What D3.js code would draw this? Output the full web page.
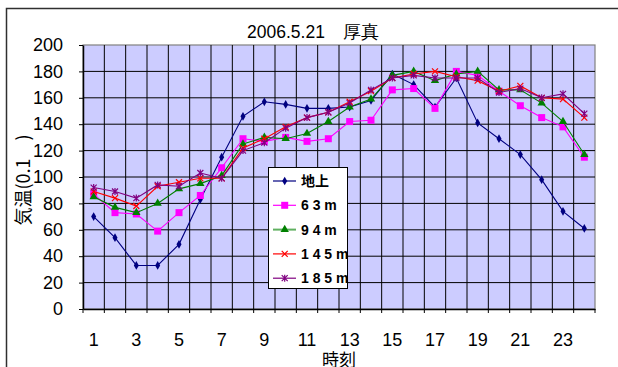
<!DOCTYPE html>
<html>
<head>
<meta charset="utf-8">
<script src="https://cdn.jsdelivr.net/npm/d3@7"></script>
<style>
  html, body { margin: 0; padding: 0; background: #fff; }
  svg { display: block; font-family: "Liberation Sans", Arial, sans-serif; }
</style>
</head>
<body>
<div id="chart"></div>
<script>
// --- DATA ---
const hours = d3.range(1, 25);
const xTickLabels = [1, 3, 5, 7, 9, 11, 13, 15, 17, 19, 21, 23];
const yTicks = d3.range(0, 201, 20);

const ground = [70, 54, 33, 33, 49, 83, 115, 146, 157, 155, 152, 152, 153, 158, 178, 170, 153, 175, 141, 129, 117, 98, 74, 61];
const m63 = [87, 73, 72, 59, 73, 86, 107, 129, 127, 130, 127, 129, 142, 143, 166, 167, 152, 180, 177, 165, 154, 145, 138, 115];
const m94 = [85, 77, 73, 80, 91, 95, 101, 125, 130, 129, 133, 142, 153, 159, 177, 180, 173, 178, 180, 166, 166, 156, 142, 117];
const m145 = [89, 84, 78, 93, 96, 99, 99, 122, 129, 138, 145, 149, 157, 165, 175, 178, 180, 176, 173, 165, 169, 160, 159, 145];
const m185 = [92, 89, 84, 94, 93, 103, 99, 120, 126, 137, 145, 149, 156, 166, 175, 177, 175, 175, 175, 164, 167, 160, 163, 148];

const series = [
  { name: "地上", values: ground, color: "#000080", legendColor: "#000080", marker: "diamond" },
  { name: "6 3 m", values: m63, color: "#ff00ff", legendColor: "#ff00ff", marker: "square" },
  { name: "9 4 m", values: m94, color: "#008000", legendColor: "#60b060", marker: "triangle" },
  { name: "1 4 5 m", values: m145, color: "#ff0000", legendColor: "#ff0000", marker: "x" },
  { name: "1 8 5 m", values: m185, color: "#800080", legendColor: "#800080", marker: "asterisk" }
];

// --- LAYOUT ---
const W = 618, H = 367;
const plot = { left: 83, right: 595, top: 45, bottom: 309 };

const svg = d3.select("#chart").append("svg")
  .attr("width", W).attr("height", H);

// outer chart frame
svg.append("rect")
  .attr("x", 6.5).attr("y", 8.5)
  .attr("width", 640).attr("height", 400)
  .attr("fill", "#fff").attr("stroke", "#303030").attr("stroke-width", 1.5);

const x = d3.scaleBand().domain(hours).range([plot.left, plot.right]);
const y = d3.scaleLinear().domain([0, 200]).range([plot.bottom, plot.top]);
const cx = h => x(h) + x.bandwidth() / 2;

// plot area
svg.append("rect")
  .attr("x", plot.left).attr("y", plot.top)
  .attr("width", plot.right - plot.left).attr("height", plot.bottom - plot.top)
  .attr("fill", "#ccccff").attr("stroke", "#808080").attr("stroke-width", 1.2);

// grid
const grid = svg.append("g");
grid.selectAll("line.h").data(yTicks.slice(1, -1)).join("line")
  .attr("x1", plot.left).attr("x2", plot.right)
  .attr("y1", d => y(d)).attr("y2", d => y(d))
  .attr("stroke", "#000").attr("stroke-width", 1);
grid.selectAll("line.v").data(hours.slice(1)).join("line")
  .attr("x1", d => x(d)).attr("x2", d => x(d))
  .attr("y1", plot.top).attr("y2", plot.bottom)
  .attr("stroke", "#000").attr("stroke-width", 1);

// axes
const xAxis = svg.append("g").attr("transform", `translate(0,${plot.bottom})`)
  .call(d3.axisBottom(x).tickValues([]).tickSizeOuter(0));
xAxis.selectAll(".tick").remove();
xAxis.select(".domain").attr("stroke", "#000").attr("stroke-width", 1.5);
xAxis.selectAll("line.tk").data(hours.concat([25])).join("line")
  .attr("class", "tk")
  .attr("x1", d => d === 25 ? plot.right : x(d)).attr("x2", d => d === 25 ? plot.right : x(d))
  .attr("y1", 0).attr("y2", 4).attr("stroke", "#000");

const yAxis = svg.append("g").attr("transform", `translate(${plot.left},0)`)
  .call(d3.axisLeft(y).tickValues(yTicks).tickSize(4).tickPadding(16).tickSizeOuter(0));
yAxis.select(".domain").attr("stroke", "#000").attr("stroke-width", 1.5);
yAxis.selectAll(".tick text")
  .attr("font-size", 18).attr("fill", "#000")
  .attr("font-family", "'Liberation Sans', Arial, sans-serif");

// x labels (odd hours only)
svg.append("g").selectAll("text").data(xTickLabels).join("text")
  .attr("x", d => cx(d)).attr("y", 346)
  .attr("text-anchor", "middle").attr("font-size", 18).attr("fill", "#000")
  .text(d => d);

// titles
svg.append("text")
  .attr("x", 313).attr("y", 38).attr("text-anchor", "middle")
  .attr("font-size", 17.5).attr("fill", "#000")
  .text("2006.5.21　厚真");

svg.append("text")
  .attr("x", (plot.left + plot.right) / 2).attr("y", 366).attr("text-anchor", "middle")
  .attr("font-size", 17).attr("fill", "#000")
  .attr("font-family", "'Noto Sans CJK JP', sans-serif")
  .text("時刻");

svg.append("text")
  .attr("transform", "translate(30,180) rotate(-90)")
  .attr("text-anchor", "middle")
  .attr("font-size", 18).attr("fill", "#000")
  .attr("font-family", "'Noto Sans CJK JP', sans-serif")
  .text("気温(0.1　)");

// markers
function marker(g, type, color, px, py) {
  if (type === "diamond") {
    g.append("path").attr("d", d3.symbol(d3.symbolDiamond, 22)())
      .attr("transform", `translate(${px},${py})`).attr("fill", color);
  } else if (type === "square") {
    g.append("rect").attr("x", px - 3.5).attr("y", py - 3.5).attr("width", 7).attr("height", 7)
      .attr("fill", color);
  } else if (type === "triangle") {
    g.append("path").attr("d", d3.symbol(d3.symbolTriangle, 30)())
      .attr("transform", `translate(${px},${py})`).attr("fill", color);
  } else if (type === "x") {
    g.append("path").attr("d", "M-3,-3L3,3M-3,3L3,-3")
      .attr("transform", `translate(${px},${py})`).attr("stroke", color).attr("stroke-width", 1.2);
  } else if (type === "asterisk") {
    g.append("path").attr("d", "M-3,-3L3,3M-3,3L3,-3M0,-3.5L0,3.5")
      .attr("transform", `translate(${px},${py})`).attr("stroke", color).attr("stroke-width", 1.2);
  }
}

const line = d3.line().x((d, i) => cx(hours[i])).y(d => y(d));
const lines = svg.append("g");
series.forEach(s => {
  const g = lines.append("g");
  g.append("path").datum(s.values).attr("d", line)
    .attr("fill", "none").attr("stroke", s.color).attr("stroke-width", 1.1);
  s.values.forEach((v, i) => marker(g, s.marker, s.color, cx(hours[i]), y(v)));
});

// legend
const lg = svg.append("g");
lg.append("rect")
  .attr("x", 268.5).attr("y", 167.5).attr("width", 79).attr("height", 121)
  .attr("fill", "#fff").attr("stroke", "#000");
series.forEach((s, i) => {
  const ly = 181 + i * 24.3;
  lg.append("line").attr("x1", 273).attr("x2", 296).attr("y1", ly).attr("y2", ly)
    .attr("stroke", s.legendColor).attr("stroke-width", i === 2 ? 2 : 1.2);
  marker(lg, s.marker, s.color, 284.7, ly);
  lg.append("text").attr("x", 301).attr("y", ly + 5)
    .attr("font-size", 14).attr("font-weight", "bold").attr("fill", "#000")
    .attr("font-family", i === 0 ? "'Noto Sans CJK JP', sans-serif" : "'Liberation Sans', Arial, sans-serif")
    .text(s.name);
});
</script>
</body>
</html>
